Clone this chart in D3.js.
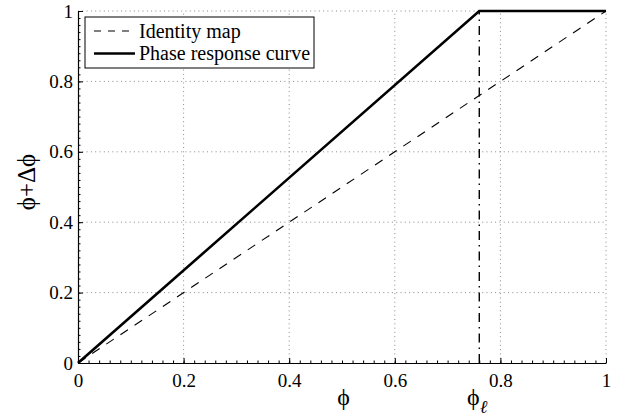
<!DOCTYPE html>
<html>
<head>
<meta charset="utf-8">
<script src="https://cdn.jsdelivr.net/npm/d3@7"></script>
<style>
  html, body { margin: 0; padding: 0; background: #fff; }
  svg { display: block; }
</style>
</head>
<body>
<svg id="chart" width="623" height="419"></svg>
<script>
// Tick values shared by both axes
const majorTicks = [0, 0.2, 0.4, 0.6, 0.8, 1];
const tickLabels = ["0", "0.2", "0.4", "0.6", "0.8", "1"];

// Identity map: phi -> phi
const identityPhi = [0, 1];
const identityValue = [0, 1];

// Phase response curve: linear rise until phi_l, then saturates at 1
const prcPhi = [0, 0.76, 1];
const prcValue = [0, 1, 1];

// Threshold phase marked with a dash-dot line
const phiL = 0.76;

const legendLabels = ["Identity map", "Phase response curve"];

const FONT = "Liberation Serif";
const svg = d3.select("#chart").attr("font-family", FONT);
const W = 623, H = 419;
const margin = { left: 78, right: 17, top: 11, bottom: 56 };

const x = d3.scaleLinear().domain([0, 1]).range([margin.left, W - margin.right]);
const y = d3.scaleLinear().domain([0, 1]).range([H - margin.bottom, margin.top]);

const minorTicks = d3.range(0, 51).map(i => i / 50);

// Dotted grid
const grid = svg.append("g").attr("class", "grid")
  .attr("stroke", "#8a8a8a").attr("stroke-width", 1).attr("stroke-dasharray", "1,3.3");
grid.selectAll("line.v").data(majorTicks.slice(1)).join("line")
  .attr("x1", d => x(d)).attr("x2", d => x(d))
  .attr("y1", y(0)).attr("y2", y(1));
grid.selectAll("line.h").data(majorTicks.slice(1)).join("line")
  .attr("x1", x(0)).attr("x2", x(1))
  .attr("y1", d => y(d)).attr("y2", d => y(d));

// Axes: minor ticks (no labels) then major ticks with labels, ticks pointing inward
function styleAxis(g) {
  g.attr("font-family", FONT).attr("font-size", 19);
  g.selectAll("path, line").attr("stroke", "#000");
  g.select(".domain").attr("stroke-width", 1.2);
  g.selectAll("text").attr("fill", "#000");
}

svg.append("g").attr("transform", `translate(0,${y(0)})`)
  .call(d3.axisBottom(x).tickValues(minorTicks).tickSizeInner(-2.5).tickSizeOuter(0).tickFormat(""))
  .call(styleAxis).call(g => g.select(".domain").remove());
svg.append("g").attr("transform", `translate(${x(0)},0)`)
  .call(d3.axisLeft(y).tickValues(minorTicks).tickSizeInner(-2.5).tickSizeOuter(0).tickFormat(""))
  .call(styleAxis).call(g => g.select(".domain").remove());

svg.append("g").attr("transform", `translate(0,${y(0)})`)
  .call(d3.axisBottom(x).tickValues(majorTicks).tickSizeInner(-5).tickSizeOuter(0)
    .tickPadding(11).tickFormat((d, i) => tickLabels[i]))
  .call(styleAxis);

svg.append("g").attr("transform", `translate(${x(0)},0)`)
  .call(d3.axisLeft(y).tickValues(majorTicks).tickSizeInner(-5).tickSizeOuter(0)
    .tickPadding(5).tickFormat((d, i) => tickLabels[i]))
  .call(styleAxis);

// Series
const line = d3.line().x(d => x(d[0])).y(d => y(d[1]));

svg.append("path")
  .datum(identityPhi.map((p, i) => [p, identityValue[i]]))
  .attr("d", line).attr("fill", "none").attr("stroke", "#000")
  .attr("stroke-width", 1.1).attr("stroke-dasharray", "9,8");

svg.append("line")
  .attr("x1", x(phiL)).attr("x2", x(phiL))
  .attr("y1", y(0)).attr("y2", y(1))
  .attr("stroke", "#000").attr("stroke-width", 1.4)
  .attr("stroke-dasharray", "9,5,1.5,5");

svg.append("path")
  .datum(prcPhi.map((p, i) => [p, prcValue[i]]))
  .attr("d", line).attr("fill", "none").attr("stroke", "#000")
  .attr("stroke-width", 2.6).attr("stroke-linejoin", "miter");

// Legend
const legend = svg.append("g").attr("transform", "translate(85,17)");
legend.append("rect").attr("width", 229).attr("height", 51)
  .attr("fill", "#fff").attr("stroke", "#000").attr("stroke-width", 1);
const legendStyles = [
  { dash: "7,7", width: 1.1 },
  { dash: null, width: 2.6 }
];
legendLabels.forEach((lab, i) => {
  const cy = 14 + i * 22.5;
  legend.append("line").attr("x1", 9).attr("x2", 50).attr("y1", cy).attr("y2", cy)
    .attr("stroke", "#000").attr("stroke-width", legendStyles[i].width)
    .attr("stroke-dasharray", legendStyles[i].dash);
  legend.append("text").attr("x", 54).attr("y", cy + 6.5)
    .attr("font-family", FONT).attr("font-size", 20).text(lab);
});

// Axis titles
svg.append("text")
  .attr("transform", `translate(35,182) rotate(-90)`)
  .attr("text-anchor", "middle").attr("font-size", 25)
  .attr("font-family", FONT)
  .text("ϕ+Δϕ");

svg.append("text")
  .attr("x", 343.5).attr("y", 405).attr("text-anchor", "middle")
  .attr("font-size", 24).attr("font-family", FONT)
  .text("ϕ");

const phiLabel = svg.append("text")
  .attr("x", 467).attr("y", 405).attr("font-size", 24)
  .attr("font-family", FONT);
phiLabel.append("tspan").text("ϕ");
phiLabel.append("tspan").attr("font-size", 18).attr("font-style", "italic")
  .attr("dy", 8).text("ℓ");
</script>
</body>
</html>
